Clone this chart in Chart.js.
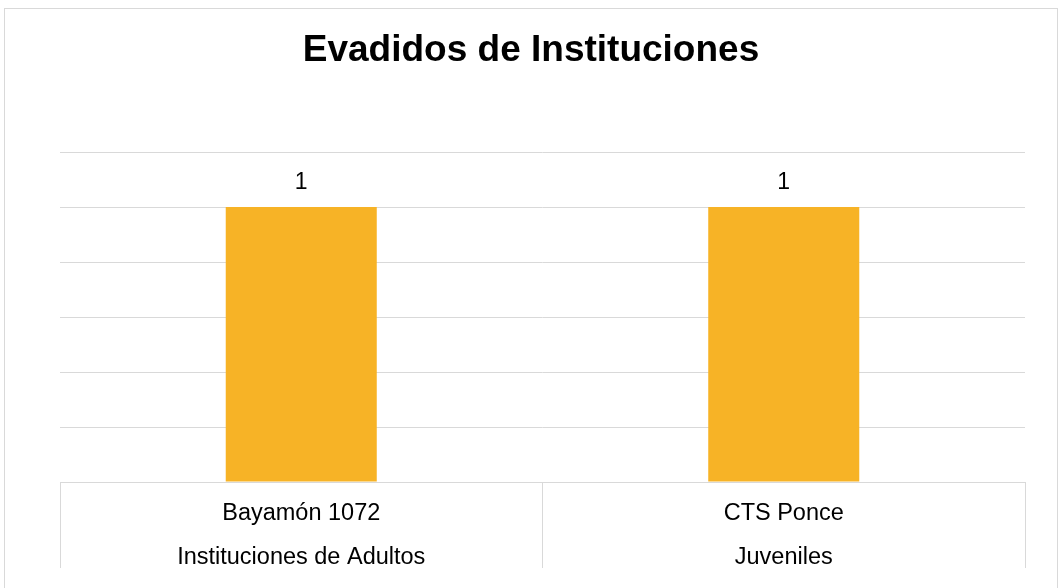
<!DOCTYPE html>
<html>
<head>
<meta charset="utf-8">
<script src="https://cdn.jsdelivr.net/npm/chart.js@4"></script>
<style>
  html, body { margin: 0; padding: 0; background: #ffffff; }
  #wrap { width: 1062px; height: 588px; position: relative; }
</style>
</head>
<body>
<div id="wrap"><canvas id="c" width="1062" height="588"></canvas></div>
<script>
const titleText = 'Evadidos de Instituciones';
const categories = ['Bayamón 1072', 'CTS Ponce'];
const groups = ['Instituciones de Adultos', 'Juveniles'];
const values = [1, 1];
const yMin = 0, yMax = 1.2, yStep = 0.2;

const FONT = '"Liberation Sans", Arial, sans-serif';
const GRID = '#d9d9d9';
const BAR = '#F7B326';

const framePlugin = {
  id: 'frame',
  beforeDraw(chart) {
    const ctx = chart.ctx;
    ctx.save();
    ctx.fillStyle = '#ffffff';
    ctx.fillRect(0, 0, chart.width, chart.height);
    ctx.strokeStyle = GRID;
    ctx.lineWidth = 1;
    ctx.strokeRect(4.5, 8.5, chart.width - 9, chart.height + 20);
    ctx.restore();
  }
};

const valueLabels = {
  id: 'valueLabels',
  afterDatasetsDraw(chart) {
    const ctx = chart.ctx;
    ctx.save();
    ctx.font = '23px ' + FONT;
    ctx.fillStyle = '#000000';
    ctx.textAlign = 'center';
    ctx.textBaseline = 'middle';
    chart.data.datasets.forEach((ds, di) => {
      chart.getDatasetMeta(di).data.forEach((bar, i) => {
        ctx.fillText(String(ds.data[i]), bar.x, bar.y - 24);
      });
    });
    ctx.restore();
  }
};

new Chart(document.getElementById('c'), {
  type: 'bar',
  data: {
    labels: categories.map((c, i) => [c, groups[i]]),
    datasets: [{
      data: values,
      backgroundColor: BAR,
      borderWidth: 0,
      categoryPercentage: 1,
      barPercentage: 0.313
    }]
  },
  options: {
    responsive: false,
    animation: false,
    devicePixelRatio: 1,
    layout: { padding: { left: 37, right: 37, top: 8, bottom: 10 } },
    plugins: {
      legend: { display: false },
      tooltip: { enabled: false },
      title: {
        display: true,
        text: titleText,
        color: '#000000',
        font: { family: FONT, size: 37, weight: 'bold', lineHeight: 1.2 },
        padding: { top: 21, bottom: 78.6 }
      }
    },
    scales: {
      x: {
        offset: true,
        border: { display: true, color: GRID, width: 1 },
        grid: {
          offset: true,
          drawOnChartArea: false,
          drawTicks: true,
          tickLength: 86,
          color: GRID,
          lineWidth: 1
        },
        ticks: {
          color: '#000000',
          font: { family: FONT, size: 23.5, lineHeight: 1.872 },
          padding: -76,
          maxRotation: 0,
          autoSkip: false
        },
        afterFit(scale) { scale.height = 96; }
      },
      y: {
        min: yMin,
        max: yMax,
        border: { display: false },
        grid: { color: GRID, lineWidth: 1, drawTicks: false },
        ticks: { display: false, stepSize: yStep },
        afterFit(scale) { scale.width = 23; }
      }
    }
  },
  plugins: [framePlugin, valueLabels]
});
</script>
</body>
</html>
